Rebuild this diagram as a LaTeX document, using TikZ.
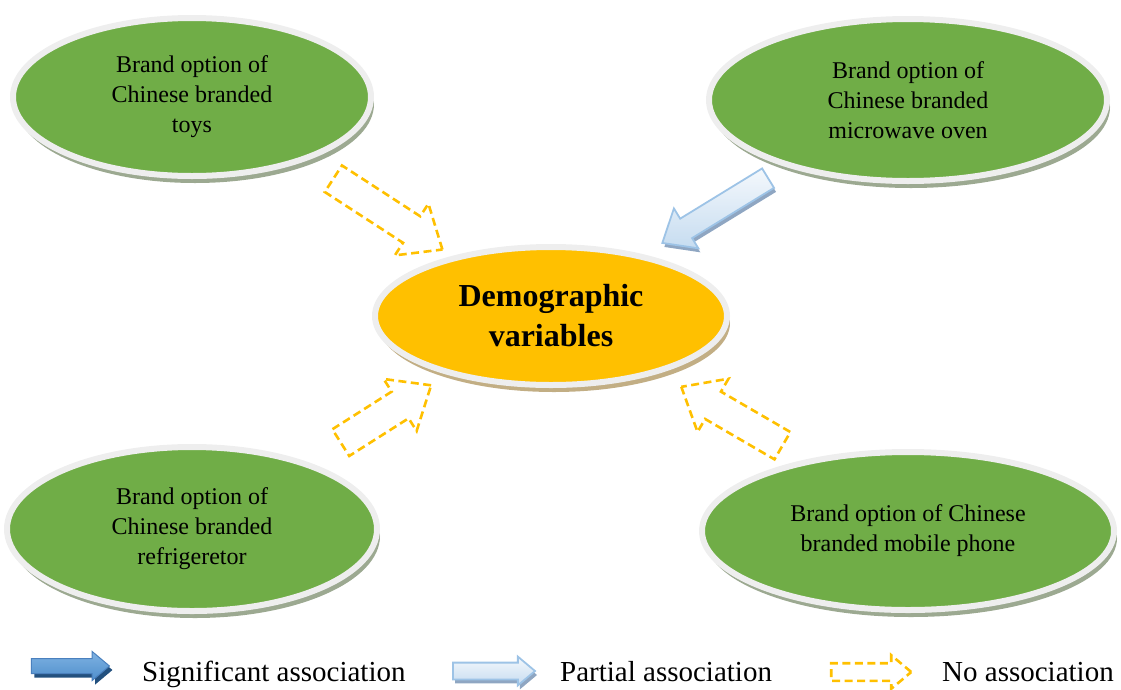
\documentclass[tikz,border=0pt]{standalone}
\usepackage{fontspec}
\setmainfont{Liberation Serif}
\usetikzlibrary{shapes.geometric}
\usetikzlibrary{shapes.arrows}
\usetikzlibrary{shadows}

\definecolor{optiongreen}{HTML}{70AD47}
\definecolor{demoorange}{HTML}{FFC000}
\definecolor{rimgrey}{HTML}{EEEEEE}
\definecolor{greenshadow}{HTML}{9CA991}
\definecolor{orangeshadow}{HTML}{C2AE84}
\definecolor{noyellow}{HTML}{FFC000}
\definecolor{partialedge}{HTML}{9DC3E6}
\definecolor{partialtop}{HTML}{F4F8FC}
\definecolor{partialbottom}{HTML}{C6DCF0}
\definecolor{partialshadow}{HTML}{8FA6C2}
\definecolor{sigtop}{HTML}{7FB2E2}
\definecolor{sigbottom}{HTML}{4F8FCC}
\definecolor{sigedge}{HTML}{4A80BE}
\definecolor{sigshadow}{HTML}{22507E}

\begin{document}
\begin{tikzpicture}[x=1pt, y=-1pt,
brandoption/.style = {ellipse, draw=rimgrey, line width=6pt, fill=optiongreen, align=center, inner sep=0pt,
  font=\fontsize{24}{30}\selectfont,
  drop shadow={shadow xshift=3pt, shadow yshift=-7pt, fill=greenshadow, opacity=1}},
demographic/.style = {ellipse, draw=rimgrey, line width=6pt, fill=demoorange, align=center, inner sep=0pt,
  font=\fontsize{32}{40}\selectfont\bfseries,
  drop shadow={shadow xshift=3pt, shadow yshift=-7pt, fill=orangeshadow, opacity=1}},
noassoc/.style = {single arrow, draw=noyellow, line width=2.6pt, dash pattern=on 8pt off 4.5pt,
  single arrow tip angle=80, inner xsep=0pt, inner ysep=14.5pt, single arrow head extend=15pt},
partial/.style = {single arrow, draw=partialedge, line width=1.8pt, top color=partialtop, bottom color=partialbottom,
  single arrow tip angle=80, inner xsep=0pt, inner ysep=10.5pt, single arrow head extend=12pt,
  drop shadow={shadow xshift=2pt, shadow yshift=-4pt, fill=partialshadow, opacity=1}},
significant/.style = {single arrow, draw=sigedge, line width=1pt, top color=sigtop, bottom color=sigbottom,
  single arrow tip angle=80, inner xsep=0pt, inner ysep=7pt, single arrow head extend=7pt,
  drop shadow={shadow xshift=3pt, shadow yshift=-4pt, fill=sigshadow, opacity=1}},
legendtext/.style = {anchor=base west, inner sep=0pt, font=\fontsize{29}{35}\selectfont}]

\useasboundingbox (0,0) rectangle (1121,689);

% the five ellipses
\node[brandoption, minimum width=358pt, minimum height=158pt] (toys) at (192,97)
  {Brand option of\\Chinese branded\\toys};
\node[brandoption, minimum width=398pt, minimum height=162pt] (microwave) at (908,100)
  {Brand option of\\Chinese branded\\microwave oven};
\node[demographic, minimum width=352pt, minimum height=138pt] (demo) at (551,316)
  {Demographic\\variables};
\node[brandoption, minimum width=370pt, minimum height=164pt] (fridge) at (192,529)
  {Brand option of\\Chinese branded\\refrigeretor};
\node[brandoption, minimum width=412pt, minimum height=158pt] (phone) at (908,531)
  {Brand option of Chinese\\branded mobile phone};

% block arrows towards the centre
\node[noassoc, minimum height=130pt, rotate=-33] (toys arrow) at (380,209) {};
\node[partial, minimum height=124pt, rotate=-148.5] (microwave arrow) at (721,207) {};
\node[noassoc, minimum height=107pt, rotate=32.4] (fridge arrow) at (378,419) {};
\node[noassoc, minimum height=117pt, rotate=149.8] (phone arrow) at (740,421) {};

% legend
\node[significant, minimum height=78pt] (sig key) at (66,666) {};
\node[legendtext] (sig text) at (142,681) {Significant association};
\node[partial, minimum height=82pt, inner ysep=7.5pt, single arrow head extend=6pt] (partial key) at (489,671) {};
\node[legendtext] (partial text) at (560,681) {Partial association};
\node[noassoc, minimum height=80pt, inner ysep=7.5pt, single arrow head extend=8pt] (no key) at (866,672) {};
\node[legendtext] (no text) at (942,681) {No association};

\end{tikzpicture}
\end{document}
